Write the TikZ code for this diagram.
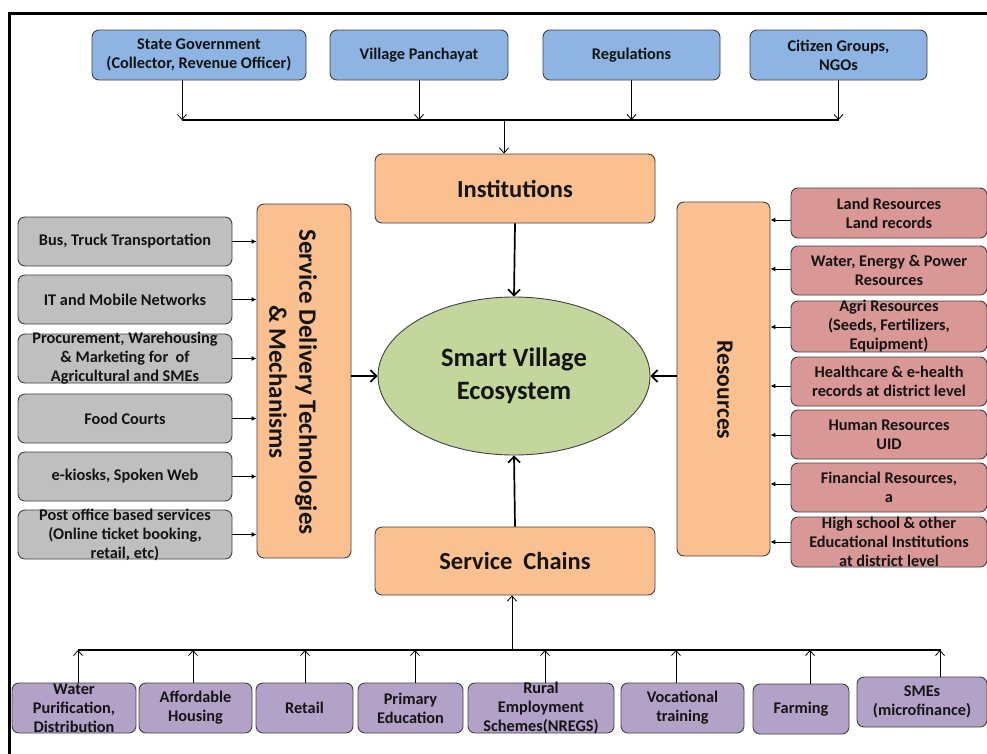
\documentclass[tikz,border=0pt]{standalone}
\usepackage{fontspec}
\setmainfont{Carlito}
\usetikzlibrary{arrows.meta,shapes.geometric}

\definecolor{govblue}{HTML}{8DB4E2}
\definecolor{techgray}{HTML}{BFBFBF}
\definecolor{corepeach}{HTML}{FAC090}
\definecolor{resred}{HTML}{D99795}
\definecolor{chainpurple}{HTML}{B3A2C7}
\definecolor{ecogreen}{HTML}{C3D69B}
\definecolor{edgegray}{HTML}{404040}
\definecolor{inkdark}{HTML}{141414}

\tikzset{
  card/.style={draw=edgegray, line width=0.9pt, rounded corners=7pt, inner xsep=0pt, inner ysep=-4pt,
    align=center, text=inkdark, font=\fontsize{16.3}{19}\selectfont\bfseries},
  govbox/.style={card, fill=govblue},
  techbox/.style={card, fill=techgray, minimum width=214, minimum height=49},
  resbox/.style={card, fill=resred, minimum width=196},
  chainbox/.style={card, fill=chainpurple, minimum height=50},
  corebox/.style={card, fill=corepeach, font=\fontsize{24.5}{30}\selectfont\bfseries},
  thinarrow/.style={line width=0.8pt, -{Straight Barb[length=5pt,width=9pt]}},
  feedarrow/.style={line width=1pt, -{Latex[length=5pt,width=5pt]}},
  bigarrow/.style={line width=1.7pt, -{Straight Barb[length=6pt,width=12pt]}},
  busline/.style={line width=1.6pt}
}

\begin{document}
\begin{tikzpicture}[x=1pt,y=-1pt]
\useasboundingbox (0,0) rectangle (987,753);

% outer frame, running past the right and bottom edges
\begin{scope}
  \clip (0,0) rectangle (987,753);
  \draw[line width=3pt] (9,13) rectangle (1010,780);
\end{scope}

% governing bodies
\node[govbox, minimum width=214, minimum height=50] (t1) at (199,55) {State Government\\(Collector, Revenue Officer)};
\node[govbox, minimum width=178, minimum height=50] (t2) at (419,55) {Village Panchayat};
\node[govbox, minimum width=177, minimum height=50] (t3) at (631.5,55) {Regulations};
\node[govbox, minimum width=177, minimum height=50] (t4) at (838.5,55) {Citizen Groups,\\NGOs};

\coordinate (topbus) at (0,120);
\coordinate (topjoin) at (504,120);

% core blocks
\node[corebox, minimum width=280, minimum height=69] (inst) at (515,188.5) {Institutions};
\node[corebox, minimum width=280, minimum height=68] (chains) at (515,561) {Service~ Chains};
\node[ellipse, draw=edgegray, line width=0.9pt, fill=ecogreen, minimum width=272, minimum height=158,
  inner sep=0pt, align=center, text=inkdark, font=\fontsize{26.5}{33}\selectfont\bfseries] (eco) at (514,376)
  {Smart Village\\Ecosystem};
\node[corebox, minimum width=94, minimum height=354] (sdt) at (304,381) {};
\node[rotate=-90, align=center, text=inkdark, font=\fontsize{25}{30}\selectfont\bfseries, inner sep=0pt]
  (sdtlabel) at (293,382) {Service Delivery Technologies\\\& Mechanisms};
\node[corebox, minimum width=93, minimum height=354] (res) at (723.5,379) {};
\node[rotate=-90, text=inkdark, font=\fontsize{23.5}{28}\selectfont\bfseries, inner sep=0pt]
  (reslabel) at (725,390) {Resources};

% delivery technologies
\node[techbox] (l1) at (125,241.5) {Bus, Truck Transportation};
\node[techbox] (l2) at (125,299.5) {IT and Mobile Networks};
\node[techbox] (l3) at (125,358.5) {Procurement, Warehousing\\\& Marketing for~ of\\Agricultural and SMEs};
\node[techbox] (l4) at (125,418.5) {Food Courts};
\node[techbox] (l5) at (125,476.5) {e-kiosks, Spoken Web};
\node[techbox] (l6) at (125,534.5) {Post office based services\\(Online ticket booking,\\retail, etc)};

% resources
\node[resbox, minimum height=50] (r1) at (889,213) {Land Resources\\Land records};
\node[resbox, minimum height=49] (r2) at (889,270.5) {Water, Energy \& Power\\Resources};
\node[resbox, minimum height=51] (r3) at (889,326.5) {Agri Resources\\(Seeds, Fertilizers,\\Equipment)};
\node[resbox, minimum height=49] (r4) at (889,381.5) {Healthcare \& e-health\\records at district level};
\node[resbox, minimum height=49] (r5) at (889,434.5) {Human Resources\\UID};
\node[resbox, minimum height=49] (r6) at (889,487.5) {Financial Resources,\\a};
\node[resbox, minimum height=50] (r7) at (889,542) {High school \& other\\Educational Institutions\\at district level};

% service chains
\node[chainbox, minimum width=124] (b1) at (74,708) {Water\\Purification,\\Distribution};
\node[chainbox, minimum width=113] (b2) at (195.5,708) {Affordable\\Housing};
\node[chainbox, minimum width=97] (b3) at (304.5,708) {Retail};
\node[chainbox, minimum width=105] (b4) at (410.5,708) {Primary\\Education};
\node[chainbox, minimum width=146] (b5) at (541,708) {Rural\\Employment\\Schemes(NREGS)};
\node[chainbox, minimum width=123] (b6) at (682.5,708) {Vocational\\training};
\node[chainbox, minimum width=96] (b7) at (801,709) {Farming};
\node[chainbox, minimum width=130] (b8) at (922,702) {SMEs\\(microfinance)};

\coordinate (botbus) at (0,650);
\coordinate (botjoin) at (512,650);

% governing bodies feed the institutions
\draw[thinarrow] (t1.south -| 182,0) -- (182,0 |- topbus);
\draw[thinarrow] (t2.south) -- (t2.south |- topbus);
\draw[thinarrow] (t3.south) -- (t3.south |- topbus);
\draw[thinarrow] (t4.south) -- (t4.south |- topbus);
\draw[busline] (182,0 |- topbus) -- (t4.south |- topbus);
\draw[thinarrow] (topjoin) -- (topjoin |- inst.north);

% core flows into the ecosystem
\draw[bigarrow] (inst.south) -- (eco.north);
\draw[bigarrow] (chains.north) -- (eco.south);
\draw[bigarrow] (sdt.east |- eco.west) -- (eco.west);
\draw[bigarrow] (res.west |- eco.east) -- (eco.east);

% delivery technologies into their block
\foreach \n in {l1,l2,l3,l4,l5,l6}
  \draw[feedarrow] (\n.east) -- (\n.east -| sdt.west);

% resources into their block
\draw[feedarrow] (r1.west |- 0,220) -- (res.east |- 0,220);
\draw[feedarrow] (r2.west |- 0,269) -- (res.east |- 0,269);
\draw[feedarrow] (r3.west |- 0,327) -- (res.east |- 0,327);
\draw[feedarrow] (r4.west |- 0,386) -- (res.east |- 0,386);
\draw[feedarrow] (r5.west |- 0,435) -- (res.east |- 0,435);
\draw[feedarrow] (r6.west |- 0,484) -- (res.east |- 0,484);
\draw[feedarrow] (r7.west |- 0,542) -- (res.east |- 0,542);

% service chains up to the collector bar
\draw[thinarrow] (b1.north -| 78,0) -- (78,0 |- botbus);
\draw[thinarrow] (b2.north -| 193,0) -- (193,0 |- botbus);
\draw[thinarrow] (b3.north -| 305,0) -- (305,0 |- botbus);
\draw[thinarrow] (b4.north -| 415,0) -- (415,0 |- botbus);
\draw[thinarrow] (b5.north -| 545,0) -- (545,0 |- botbus);
\draw[thinarrow] (b6.north -| 676,0) -- (676,0 |- botbus);
\draw[thinarrow] (b7.north -| 810,0) -- (810,0 |- botbus);
\draw[thinarrow] (b8.north -| 940,0) -- (940,0 |- botbus);
\draw[busline] (78,0 |- botbus) -- (941,0 |- botbus);
\draw[thinarrow] (botjoin) -- (botjoin |- chains.south);
\end{tikzpicture}
\end{document}
